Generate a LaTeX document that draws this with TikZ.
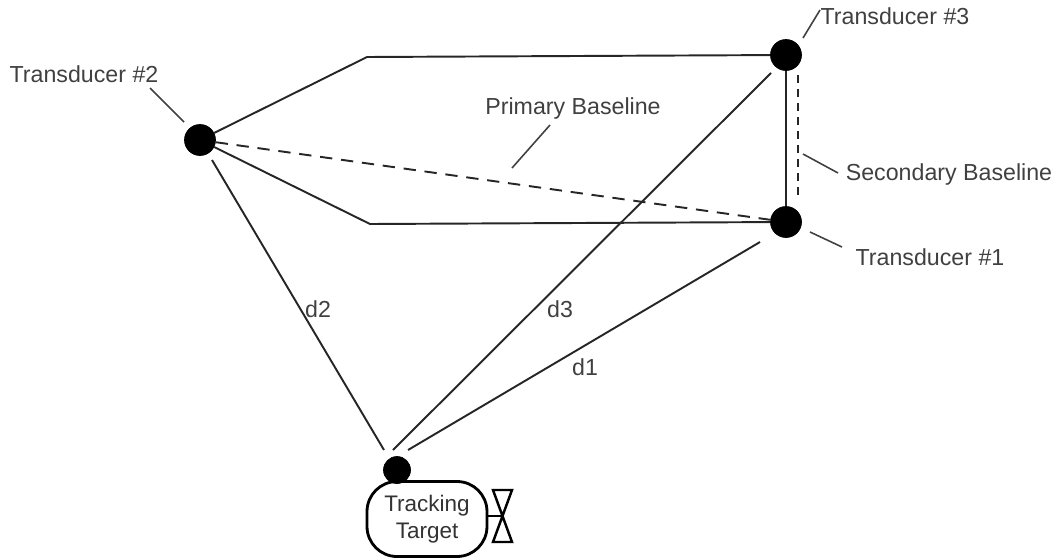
\documentclass[tikz,border=0pt]{standalone}
\usepackage{fontspec}
\setmainfont{Liberation Sans}
\tikzset{
  dot/.style={circle,fill=black,draw=black,inner sep=0pt,minimum size=0.62cm},
  smalldot/.style={circle,fill=black,draw=black,inner sep=0pt,minimum size=0.54cm},
  lbl/.style={inner sep=0pt,text=black!75,font=\fontsize{13.2}{15}\selectfont},
  link/.style={line width=1.1pt,black!85},
  leader/.style={line width=0.9pt,black!75},
  target/.style={draw,line width=1.6pt,rounded corners=0.6cm,minimum width=2.4cm,minimum height=1.5cm,
    inner sep=0pt,align=center,text=black!80,font=\fontsize{12.8}{15.5}\selectfont},
}
\begin{document}
\begin{tikzpicture}[x=0.02cm,y=-0.02cm]
  \useasboundingbox (0,0) rectangle (1055,558);
  \draw
    (200,140) node[dot] (t2){}
    (786,55) node[dot] (t3){}
    (786,222) node[dot] (t1){}
    (397,470) node[smalldot] (dot){}
    (427,519) node[target] (body){Tracking\\Target};
  \path
    (84,74) node[lbl] (l2){Transducer \#2}
    (895,16) node[lbl] (l3){Transducer \#3}
    (949,174) node[lbl] (ls){Secondary Baseline}
    (930,257) node[lbl] (l1){Transducer \#1}
    (573,109) node[lbl] (lp){Primary Baseline}
    (318,309) node[lbl] (d2){d2}
    (560,309) node[lbl] (d3){d3}
    (585,367) node[lbl] (d1){d1};
  \path
    (367,57) coordinate (upper)
    (370,224) coordinate (lower)
    (798,75) coordinate (s3)
    (798,200) coordinate (s1)
    (212,160) coordinate (d2a)
    (384,450) coordinate (d2b)
    (771,73) coordinate (d3a)
    (393,450) coordinate (d3b)
    (760,242) coordinate (d1a)
    (408,450) coordinate (d1b)
    (150,88) coordinate (a2)
    (184,122) coordinate (b2)
    (820,10) coordinate (a3)
    (803,38) coordinate (b3)
    (838,173) coordinate (as)
    (803,154) coordinate (bs)
    (842,247) coordinate (a1)
    (810,232) coordinate (b1)
    (550,125) coordinate (ap)
    (512,168) coordinate (bp)
    (493,490) coordinate (b4)
    (512,490) coordinate (b5)
    (493,542) coordinate (b6)
    (512,542) coordinate (b7)
    (487,516) coordinate (stem)
    (503,516) coordinate (mid);
  \begin{scope}[link]
    \draw (t2) to (upper) to (t3);
    \draw (t2) to (lower) to (t1);
    \draw (t3) to (t1);
    \draw (d2a) to (d2b);
    \draw (d3a) to (d3b);
    \draw (d1a) to (d1b);
    \draw[dash pattern=on 7pt off 5pt] (t2) to (t1);
    \draw[dash pattern=on 4.5pt off 3.5pt] (s3) to (s1);
  \end{scope}
  \begin{scope}[leader]
    \draw (a2) to (b2);
    \draw (a3) to (b3);
    \draw (as) to (bs);
    \draw (a1) to (b1);
    \draw (ap) to (bp);
  \end{scope}
  \draw[line width=1.4pt] (stem) to (mid);
  \draw[line width=1.4pt] (b4) -- (b5) -- (b6) -- (b7) -- cycle;
\end{tikzpicture}
\end{document}
